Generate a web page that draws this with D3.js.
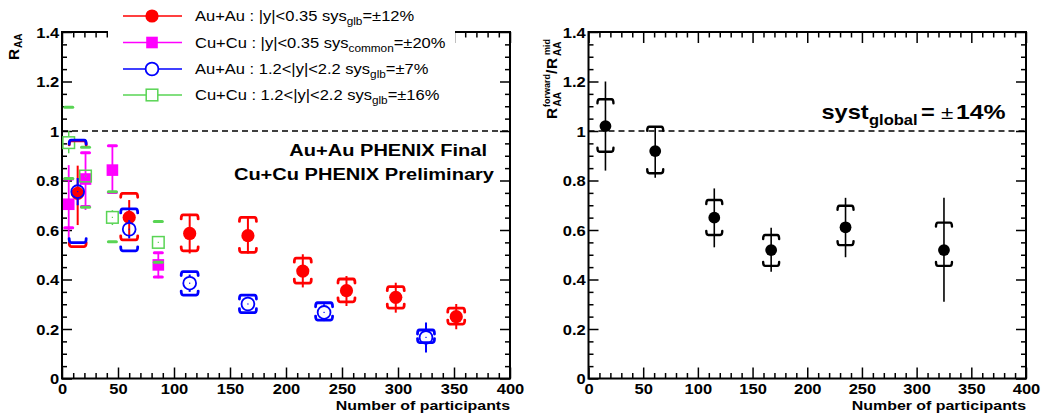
<!DOCTYPE html>
<html><head><meta charset="utf-8">
<script src="https://cdn.jsdelivr.net/npm/d3@7"></script>
<style>
body{margin:0;background:#fff}
svg{display:block}
text{font-family:"Liberation Sans",Arial,Helvetica,sans-serif}
</style>
</head><body>
<svg id="c" width="1055" height="416"></svg>
<script>
// ---------------- DATA ----------------
const xTicks = [0, 50, 100, 150, 200, 250, 300, 350, 400];
const yTicks = [0, 0.2, 0.4, 0.6, 0.8, 1, 1.2, 1.4];

// Au+Au |y|<0.35 (red, filled circles)
const auMidN      = [14, 60, 114, 166, 215, 254, 298, 352];
const auMidR      = [0.748, 0.651, 0.586, 0.577, 0.434, 0.355, 0.328, 0.250];
const auMidStatLo = [0.620, 0.580, 0.505, 0.505, 0.368, 0.293, 0.266, 0.199];
const auMidStatHi = [0.860, 0.721, 0.665, 0.655, 0.502, 0.414, 0.387, 0.301];
const auMidSysLo  = [0.533, 0.560, 0.516, 0.510, 0.385, 0.310, 0.284, 0.220];
const auMidSysHi  = [0.960, 0.748, 0.661, 0.651, 0.486, 0.402, 0.371, 0.284];

// Cu+Cu |y|<0.35 (magenta, filled squares)
const cuMidN      = [6, 21, 45, 86];
const cuMidR      = [0.704, 0.806, 0.842, 0.459];
const cuMidStatLo = [0.560, 0.681, 0.751, 0.405];
const cuMidStatHi = [0.862, 0.916, 0.937, 0.508];
const cuMidSysLo  = [0.609, 0.695, 0.752, 0.410];
const cuMidSysHi  = [0.806, 0.912, 0.940, 0.508];

// Au+Au 1.2<|y|<2.2 (blue, open circles)
const auFwdN      = [14, 60, 114, 166, 234, 325];
const auFwdR      = [0.755, 0.603, 0.385, 0.301, 0.267, 0.166];
const auFwdStatLo = [0.700, 0.566, 0.350, 0.275, 0.232, 0.105];
const auFwdStatHi = [0.810, 0.640, 0.420, 0.330, 0.300, 0.226];
const auFwdSysLo  = [0.549, 0.516, 0.337, 0.266, 0.236, 0.145];
const auFwdSysHi  = [0.963, 0.685, 0.432, 0.337, 0.306, 0.196];

// Cu+Cu 1.2<|y|<2.2 (green, open squares)
const cuFwdN      = [6, 21, 45, 86];
const cuFwdR      = [0.953, 0.818, 0.651, 0.550];
const cuFwdStatLo = [0.910, 0.800, 0.620, 0.530];
const cuFwdStatHi = [1.000, 0.840, 0.680, 0.570];
const cuFwdSysLo  = [0.808, 0.692, 0.553, 0.470];
const cuFwdSysHi  = [1.096, 0.934, 0.755, 0.634];

// Ratio forward/mid (black)
const ratN      = [15.5, 61, 115, 167, 235, 325];
const ratR      = [1.020, 0.919, 0.650, 0.519, 0.611, 0.519];
const ratStatLo = [0.840, 0.811, 0.530, 0.431, 0.490, 0.310];
const ratStatHi = [1.200, 1.020, 0.768, 0.609, 0.730, 0.730];
const ratSysLo  = [0.916, 0.829, 0.580, 0.455, 0.539, 0.455];
const ratSysHi  = [1.128, 1.017, 0.721, 0.580, 0.698, 0.630];

const legendLabels = [
  ["Au+Au : |y|<0.35 sys", "glb", "=\u00b112%"],
  ["Cu+Cu : |y|<0.35 sys", "common", "=\u00b120%"],
  ["Au+Au : 1.2<|y|<2.2 sys", "glb", "=\u00b17%"],
  ["Cu+Cu : 1.2<|y|<2.2 sys", "glb", "=\u00b116%"]
];

// ---------------- STYLE ----------------
const RED = "#ff0000", MAG = "#ff00ff", BLUE = "#0000ff", GREEN = "#59d454";
const SX = 1.18;
const svg = d3.select("#c");

const xL = d3.scaleLinear().domain([0, 400]).range([62, 510]);
const xR = d3.scaleLinear().domain([0, 400]).range([588.5, 1026]);
const yS = d3.scaleLinear().domain([0, 1.4]).range([378.5, 32]);

function txt(g, x, y, s, size, weight, anchor) {
  return g.append("text")
    .attr("transform", `translate(${x},${y}) scale(${SX},1)`)
    .attr("text-anchor", anchor || "start")
    .attr("font-size", size).attr("font-weight", weight || "bold")
    .text(s);
}

function axes(xs) {
  const g = svg.append("g");
  const [x0, x1] = xs.range();
  const [y0, y1] = yS.range();
  const clean = a => { a.select(".domain").remove(); a.attr("font-size", null).attr("font-family", null); a.selectAll("line").attr("stroke-width", 1.5); };
  const minorX = d3.range(0, 41).map(i => i * 10).filter(v => v % 50 !== 0);
  const minorY = d3.range(0, 29).map(i => +(i * 0.05).toFixed(2)).filter(v => Math.round(v * 100) % 20 !== 0);
  const fmtY = d => d === 0 ? "0" : String(+d.toFixed(1));

  // bottom
  g.append("g").attr("transform", `translate(0,${y0})`)
    .call(d3.axisBottom(xs).tickValues(xTicks).tickSize(-11).tickFormat(d3.format("d")))
    .call(clean)
    .call(a => a.selectAll("text").attr("y", 16).attr("dy", null)
      .attr("font-size", 14).attr("font-weight", "bold").attr("fill", "#000")
      .attr("transform", `scale(${SX},1)`));
  g.append("g").attr("transform", `translate(0,${y0})`)
    .call(d3.axisBottom(xs).tickValues(minorX).tickSize(-5.5).tickFormat(""))
    .call(clean);
  // top
  g.append("g").attr("transform", `translate(0,${y1})`)
    .call(d3.axisTop(xs).tickValues(xTicks).tickSize(-11).tickFormat(""))
    .call(clean);
  g.append("g").attr("transform", `translate(0,${y1})`)
    .call(d3.axisTop(xs).tickValues(minorX).tickSize(-5.5).tickFormat(""))
    .call(clean);
  // left
  g.append("g").attr("transform", `translate(${x0},0)`)
    .call(d3.axisLeft(yS).tickValues(yTicks).tickSize(-10).tickFormat(fmtY))
    .call(clean)
    .call(a => a.selectAll("text").attr("x", -2.3).attr("dy", "0.36em")
      .attr("font-size", 14).attr("font-weight", "bold").attr("fill", "#000")
      .attr("transform", `scale(${SX},1)`));
  g.append("g").attr("transform", `translate(${x0},0)`)
    .call(d3.axisLeft(yS).tickValues(minorY).tickSize(-5).tickFormat(""))
    .call(clean);
  // right
  g.append("g").attr("transform", `translate(${x1},0)`)
    .call(d3.axisRight(yS).tickValues(yTicks).tickSize(-10).tickFormat(""))
    .call(clean);
  g.append("g").attr("transform", `translate(${x1},0)`)
    .call(d3.axisRight(yS).tickValues(minorY).tickSize(-5).tickFormat(""))
    .call(clean);
  // frame
  g.append("rect").attr("x", x0).attr("y", y1).attr("width", x1 - x0).attr("height", y0 - y1)
    .attr("fill", "none").attr("stroke", "#000").attr("stroke-width", 2);
  // dashed unity line
  g.append("line").attr("x1", x0).attr("x2", x1).attr("y1", yS(1)).attr("y2", yS(1))
    .attr("stroke", "#000").attr("stroke-width", 1.4).attr("stroke-dasharray", "6,4");
  // x title
  txt(g, x1, 409.5, "Number of participants", 13.5, "bold", "end");
  return g;
}

function bracket(g, x, y, dir, w, hook, color, sw) {
  g.append("path")
    .attr("d", `M${x - w / 2},${y + dir * hook} Q${x - w / 2},${y} ${x - w / 2 + 2},${y} L${x + w / 2 - 2},${y} Q${x + w / 2},${y} ${x + w / 2},${y + dir * hook}`)
    .attr("fill", "none").attr("stroke", color).attr("stroke-width", sw).attr("stroke-linecap", "round");
}

function marker(g, type, x, y, color) {
  if (type === "fc") g.append("circle").attr("cx", x).attr("cy", y).attr("r", 6.6).attr("fill", color);
  else if (type === "oc") { g.append("circle").attr("cx", x).attr("cy", y).attr("r", 6.4).attr("fill", "none").attr("stroke", color).attr("stroke-width", 1.8); }
  else if (type === "fs") g.append("rect").attr("x", x - 5.8).attr("y", y - 5.8).attr("width", 11.6).attr("height", 11.6).attr("fill", color);
  else if (type === "os") g.append("rect").attr("x", x - 5.8).attr("y", y - 5.8).attr("width", 11.6).attr("height", 11.6).attr("fill", "none").attr("stroke", color).attr("stroke-width", 1.5);
  else if (type === "bc") g.append("circle").attr("cx", x).attr("cy", y).attr("r", 5.9).attr("fill", color);
}

function series(g, xs, N, R, sLo, sHi, yLo, yHi, color, type, sysStyle, statW) {
  const open = type === "oc" || type === "os";
  const rr = open ? 6.3 : 0;
  N.forEach((n, i) => {
    const x = xs(n), y = yS(R[i]);
    // stat bar
    if (open) {
      g.append("line").attr("x1", x).attr("x2", x).attr("y1", yS(sHi[i])).attr("y2", Math.max(yS(sHi[i]), y - rr))
        .attr("stroke", color).attr("stroke-width", statW);
      g.append("line").attr("x1", x).attr("x2", x).attr("y1", Math.min(yS(sLo[i]), y + rr)).attr("y2", yS(sLo[i]))
        .attr("stroke", color).attr("stroke-width", statW);
    } else {
      g.append("line").attr("x1", x).attr("x2", x).attr("y1", yS(sHi[i])).attr("y2", yS(sLo[i]))
        .attr("stroke", color).attr("stroke-width", statW);
    }
    // sys
    if (sysStyle === "dash") {
      [yHi[i], yLo[i]].forEach(v => g.append("line").attr("x1", x - 4).attr("x2", x + 4)
        .attr("y1", yS(v)).attr("y2", yS(v)).attr("stroke", color).attr("stroke-width", 3).attr("stroke-linecap", "round"));
    } else {
      const w = sysStyle === "black" ? 16 : 17;
      const sw = sysStyle === "black" ? 2.4 : 2.8;
      bracket(g, x, yS(yHi[i]), 1, w, 4, color, sw);
      bracket(g, x, yS(yLo[i]), -1, w, 4, color, sw);
    }
    marker(g, type, x, y, color);
    if (open) g.append("rect").attr("x", x - 0.6).attr("y", y - 0.6).attr("width", 1.2).attr("height", 1.2).attr("fill", color);
  });
}

// ---------------- LEFT PANEL ----------------
const gL = axes(xL);
const dL = svg.append("g");
series(dL, xL, cuMidN, cuMidR, cuMidStatLo, cuMidStatHi, cuMidSysLo, cuMidSysHi, MAG, "fs", "dash", 1.8);
series(dL, xL, cuFwdN, cuFwdR, cuFwdStatLo, cuFwdStatHi, cuFwdSysLo, cuFwdSysHi, GREEN, "os", "dash", 1.5);
series(dL, xL, auMidN, auMidR, auMidStatLo, auMidStatHi, auMidSysLo, auMidSysHi, RED, "fc", "bracket", 2);
series(dL, xL, auFwdN, auFwdR, auFwdStatLo, auFwdStatHi, auFwdSysLo, auFwdSysHi, BLUE, "oc", "bracket", 2);

// legend
const lg = svg.append("g");
lg.append("rect").attr("x", 108).attr("y", 0).attr("width", 347).attr("height", 103).attr("fill", "#fff");
const legColors = [RED, MAG, BLUE, GREEN];
const legTypes = ["fc", "fs", "oc", "os"];
const legY = [16, 42.5, 69, 95];
legendLabels.forEach((lab, i) => {
  const y = legY[i];
  lg.append("line").attr("x1", 123).attr("x2", 182).attr("y1", y).attr("y2", y)
    .attr("stroke", legColors[i]).attr("stroke-width", 1.6);
  if (legTypes[i] === "oc" || legTypes[i] === "os") {
    if (legTypes[i] === "oc") lg.append("circle").attr("cx", 152).attr("cy", y).attr("r", 6.2).attr("fill", "#fff");
    else lg.append("rect").attr("x", 146.2).attr("y", y - 5.8).attr("width", 11.6).attr("height", 11.6).attr("fill", "#fff");
  }
  marker(lg, legTypes[i], 152, y, legColors[i]);
  const t = lg.append("text")
    .attr("transform", `translate(195,${y + 5}) scale(${SX},1)`)
    .attr("font-size", 14).attr("fill", "#000");
  t.append("tspan").text(lab[0]);
  t.append("tspan").attr("font-size", 10).attr("dy", 4).text(lab[1]);
  t.append("tspan").attr("dy", -4).text(lab[2]);
});

// Left y title
const ytL = svg.append("g").attr("transform", "translate(18.5,60) rotate(-90)");
ytL.append("text").attr("x", 0).attr("y", 0).attr("font-size", 15.5).attr("font-weight", "bold").text("R");
ytL.append("text").attr("x", 12).attr("y", 3.5).attr("font-size", 10).attr("font-weight", "bold").text("AA");

// annotations
txt(svg, 487, 155.5, "Au+Au PHENIX Final", 17, "bold", "end");
txt(svg, 494, 180, "Cu+Cu PHENIX Preliminary", 17, "bold", "end");

// ---------------- RIGHT PANEL ----------------
const gR = axes(xR);
const dR = svg.append("g");
series(dR, xR, ratN, ratR, ratStatLo, ratStatHi, ratSysLo, ratSysHi, "#000", "bc", "black", 1.6);

// Right y title
const ytR = svg.append("g").attr("transform", "translate(557,119) rotate(-90)");
const yt = (x, y, s, fs) => ytR.append("text").attr("x", x).attr("y", y).attr("font-size", fs).attr("font-weight", "bold").text(s);
yt(0, 0, "R", 15.5);
yt(12, -7, "forward", 9);
yt(12.5, 4, "AA", 10);
yt(45, 0, "/", 15.5);
yt(50, 0, "R", 15.5);
yt(64, -7, "mid", 9);
yt(63, 4, "AA", 10);

// syst global
txt(svg, 821.5, 118.5, "syst", 20, "bold");
txt(svg, 869, 125, "global", 14, "bold");
txt(svg, 921, 118.5, "=", 20, "bold");
txt(svg, 941, 118.5, "\u00b1", 19, "normal");
txt(svg, 956, 118.5, "14%", 21, "bold");
</script>
</body></html>
